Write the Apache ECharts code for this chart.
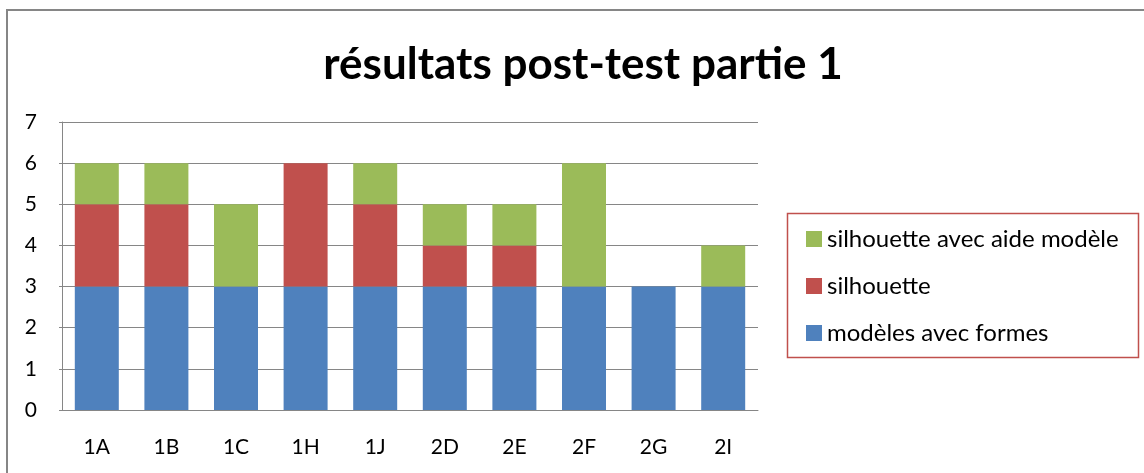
<!DOCTYPE html>
<html>
<head>
<meta charset="utf-8">
<script src="https://cdn.jsdelivr.net/npm/echarts@6/dist/echarts.min.js"></script>
<style>
  html, body { margin: 0; padding: 0; background: #fff; }
  #chart { width: 1144px; height: 473px; }
</style>
</head>
<body>
<div id="chart"></div>
<script>
const categories = ['1A', '1B', '1C', '1H', '1J', '2D', '2E', '2F', '2G', '2I']
const modelesAvecFormes = [3, 3, 3, 3, 3, 3, 3, 3, 3, 3]
const silhouette = [2, 2, 0, 3, 2, 1, 1, 0, 0, 0]
const silhouetteAideModele = [1, 1, 2, 0, 1, 1, 1, 3, 0, 1]
const yTicks = [0, 1, 2, 3, 4, 5, 6, 7]

const chart = echarts.init(document.getElementById('chart'))
const font = 'Lato'

const option = {
  animation: false,
  title: {
    text: 'résultats post-test partie 1',
    left: 578,
    top: 38,
    textAlign: 'center',
    textStyle: { fontFamily: font, fontWeight: 'bold', fontSize: 44, color: '#000' }
  },
  graphic: [
    // outer chart frame (right and bottom edges fall off the picture)
    { type: 'rect', shape: { x: 7, y: 10, width: 1200, height: 500 },
      style: { fill: null, stroke: '#868686', lineWidth: 2 }, silent: true },
    // legend frame
    { type: 'rect', shape: { x: 787.5, y: 213.5, width: 351, height: 144 },
      style: { fill: null, stroke: '#c0504d', lineWidth: 1.5 }, silent: true }
  ],
  legend: {
    orient: 'vertical',
    left: 801,
    top: 222,
    itemWidth: 16,
    itemHeight: 16,
    itemGap: 23,
    icon: 'rect',
    textStyle: { fontFamily: font, fontSize: 24, color: '#000', lineHeight: 24 },
    data: ['silhouette avec aide modèle', 'silhouette', 'modèles avec formes']
  },
  grid: { left: 62, right: 386, top: 122, bottom: 63 },
  xAxis: {
    type: 'category',
    data: categories,
    axisLine: { lineStyle: { color: '#868686' } },
    axisTick: { show: false },
    axisLabel: { fontFamily: font, fontSize: 21, color: '#000', margin: 27 }
  },
  yAxis: {
    type: 'value',
    min: yTicks[0],
    max: yTicks[yTicks.length - 1],
    interval: 1,
    axisLine: { show: true, lineStyle: { color: '#868686' } },
    axisTick: { show: true, length: 3, lineStyle: { color: '#868686' } },
    splitLine: { lineStyle: { color: '#868686' } },
    axisLabel: { fontFamily: font, fontSize: 21, color: '#000', margin: 25 }
  },
  series: [
    { name: 'modèles avec formes', type: 'bar', stack: 'total', barWidth: 44,
      itemStyle: { color: '#4f81bd' }, data: modelesAvecFormes },
    { name: 'silhouette', type: 'bar', stack: 'total', barWidth: 44,
      itemStyle: { color: '#c0504d' }, data: silhouette },
    { name: 'silhouette avec aide modèle', type: 'bar', stack: 'total', barWidth: 44,
      itemStyle: { color: '#9bbb59' }, data: silhouetteAideModele }
  ]
}
chart.setOption(option)
</script>
</body>
</html>
